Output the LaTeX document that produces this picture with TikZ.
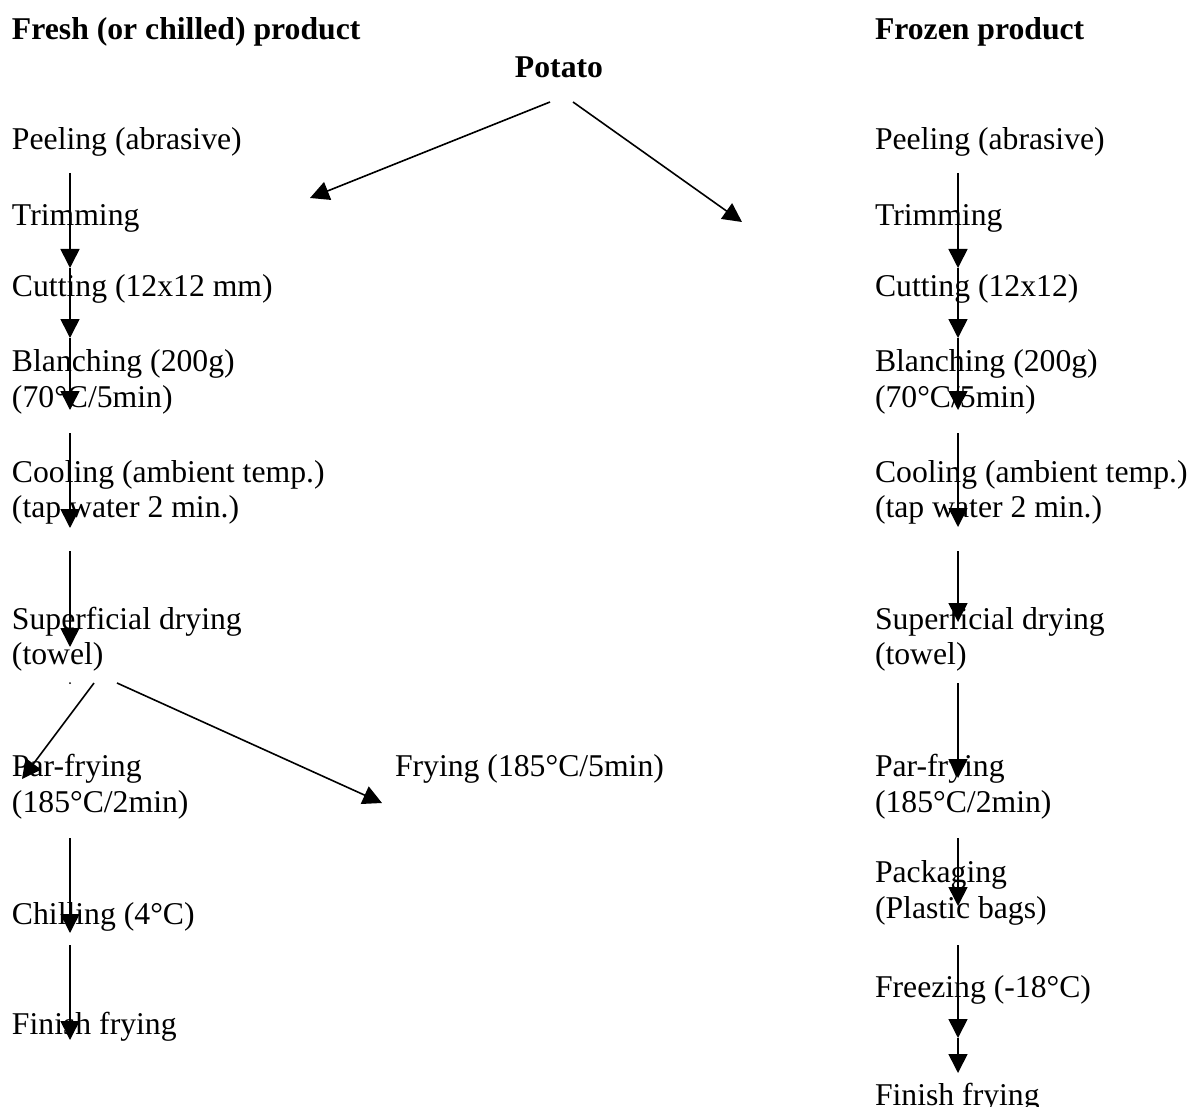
\documentclass[tikz,border=0pt]{standalone}
\usepackage{fontspec}
\setmainfont{Liberation Serif}
\usetikzlibrary{arrows.meta}
\tikzset{
  lbl/.style={inner sep=0pt, outer sep=0pt, anchor=base west, font=\fontsize{31.7pt}{36pt}\selectfont},
  head/.style={lbl, font=\fontsize{31.7pt}{36pt}\selectfont\bfseries},
  flow/.style={line width=1.6pt, -{Triangle[length=19pt,width=19pt]}}
}
\begin{document}
\begin{tikzpicture}[x=1pt,y=-1pt]
\useasboundingbox (0,0) rectangle (1191,1107);
% headings
\node[head] (hfresh) at (12,40) {Fresh (or chilled) product};
\node[head] (hfrozen) at (875,40) {Frozen product};
\node[head, anchor=base] (potato) at (559,78) {Potato};
% left column
\node[lbl] (lpeel) at (12,150) {Peeling (abrasive)};
\node[lbl] (ltrim) at (12,226) {Trimming};
\node[lbl] (lcut) at (12,297) {Cutting (12x12 mm)};
\node[lbl] (lblanchA) at (12,371) {Blanching (200g)};
\node[lbl] (lblanchB) at (12,407) {(70°C/5min)};
\node[lbl] (lcoolA) at (12,482) {Cooling (ambient temp.)};
\node[lbl] (lcoolB) at (12,517) {(tap water 2 min.)};
\node[lbl] (ldryA) at (12,629) {Superficial drying};
\node[lbl] (ldryB) at (12,664) {(towel)};
\node[lbl] (lparA) at (12,776) {Par-frying};
\node[lbl] (lparB) at (12,812) {(185°C/2min)};
\node[lbl] (lchill) at (12,924) {Chilling (4°C)};
\node[lbl] (lfinish) at (12,1034) {Finish frying};
\node[lbl] (mfry) at (395,776) {Frying (185°C/5min)};
% right column
\node[lbl] (rpeel) at (875,150) {Peeling (abrasive)};
\node[lbl] (rtrim) at (875,226) {Trimming};
\node[lbl] (rcut) at (875,297) {Cutting (12x12)};
\node[lbl] (rblanchA) at (875,371) {Blanching (200g)};
\node[lbl] (rblanchB) at (875,407) {(70°C/5min)};
\node[lbl] (rcoolA) at (875,482) {Cooling (ambient temp.)};
\node[lbl] (rcoolB) at (875,517) {(tap water 2 min.)};
\node[lbl] (rdryA) at (875,629) {Superficial drying};
\node[lbl] (rdryB) at (875,664) {(towel)};
\node[lbl] (rparA) at (875,776) {Par-frying};
\node[lbl] (rparB) at (875,812) {(185°C/2min)};
\node[lbl] (rpackA) at (875,882) {Packaging};
\node[lbl] (rpackB) at (875,918) {(Plastic bags)};
\node[lbl] (rfreeze) at (875,997) {Freezing (-18°C)};
\node[lbl] (rfinish) at (875,1105) {Finish frying};
% connector coordinates
\coordinate (pL) at (550,102);
\coordinate (pLt) at (310,198);
\coordinate (pR) at (573,102);
\coordinate (pRt) at (742,222);
\foreach \n/\y in {a/173,b/268,c/338,d/410,e/433,f/528,g/551,h/647,i/838,j/933,k/945,l/1040}{
  \coordinate (L\n) at (70,\y);
}
\foreach \n/\y in {a/173,b/268,c/338,d/410,e/433,f/527,g/551,h/622,i/683,j/778,k/838,l/906,m/945,n/1038,o/1073}{
  \coordinate (R\n) at (958,\y);
}
\coordinate (sA) at (94,683);
\coordinate (sAt) at (22,779);
\coordinate (sB) at (117,683);
\coordinate (sBt) at (382,803);
% potato arrows
\draw[flow] (pL) -- (pLt);
\draw[flow] (pR) -- (pRt);
% left arrows
\draw[flow] (La) -- (Lb);
\draw[flow] (Lb) -- (Lc);
\draw[flow] (Lc) -- (Ld);
\draw[flow] (Le) -- (Lf);
\draw[flow] (Lg) -- (Lh);
\draw[flow] (Li) -- (Lj);
\draw[flow] (Lk) -- (Ll);
\draw[flow] (sA) -- (sAt);
\draw[flow] (sB) -- (sBt);
\fill (70,683) circle (1pt);
% right arrows
\draw[flow] (Ra) -- (Rb);
\draw[flow] (Rb) -- (Rc);
\draw[flow] (Rc) -- (Rd);
\draw[flow] (Re) -- (Rf);
\draw[flow] (Rg) -- (Rh);
\draw[flow] (Ri) -- (Rj);
\draw[flow] (Rk) -- (Rl);
\draw[flow] (Rm) -- (Rn);
\draw[flow] (Rn) -- (Ro);
\end{tikzpicture}
\end{document}
